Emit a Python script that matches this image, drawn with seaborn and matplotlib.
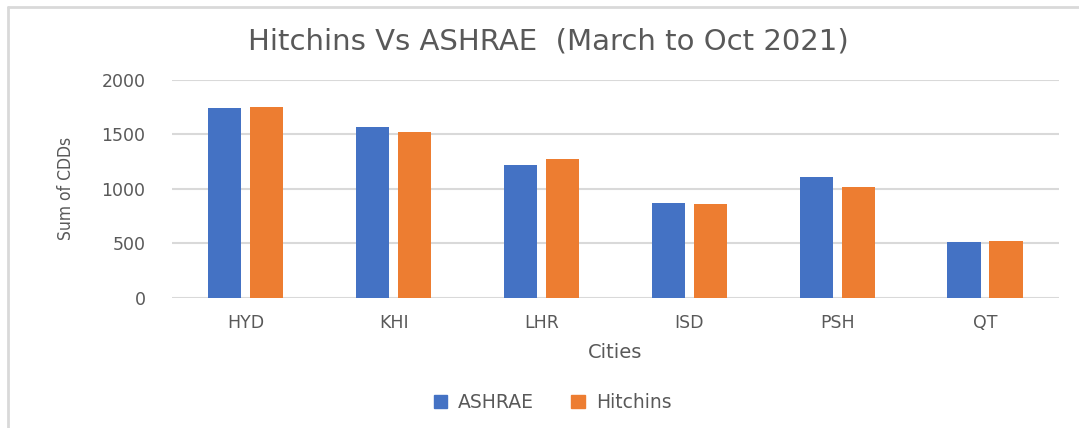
import pandas as pd
import seaborn as sns
import matplotlib.pyplot as plt
from matplotlib.lines import Line2D
from matplotlib.patches import Patch

# data
cities = ["HYD", "KHI", "LHR", "ISD", "PSH", "QT"]
ashrae = [1741, 1566, 1220, 868, 1107, 512]
hitchins = [1750, 1523, 1272, 858, 1015, 521]
series = ["ASHRAE", "Hitchins"]
colors = ["#4472C4", "#ED7D31"]

df = pd.DataFrame({
    "city": cities * 2,
    "cdd": ashrae + hitchins,
    "source": [series[0]] * len(cities) + [series[1]] * len(cities),
})

sns.set_style("white")
grey = "#595959"
wide = ["DejaVu Sans"]

fig = plt.figure(figsize=(10.79, 4.28), dpi=100)
ax = fig.add_axes([0.1594, 0.3044, 0.822, 0.5087])

sns.barplot(data=df, x="city", y="cdd", hue="source", palette=colors,
            width=0.568, gap=0.21, saturation=1, ax=ax, legend=False,
            edgecolor="none")

ax.set_ylim(0, 2000)
ax.set_yticks(range(0, 2001, 500))
ax.yaxis.grid(True, color="#d9d9d9", lw=1.5)
ax.set_axisbelow(True)
for s in ax.spines.values():
    s.set_visible(False)
ax.tick_params(axis="both", length=0, colors=grey, labelsize=12.5)
ax.tick_params(axis="y", pad=19)
ax.tick_params(axis="x", pad=12)
for lab in ax.get_xticklabels() + ax.get_yticklabels():
    lab.set_family(wide)

ax.set_xlabel("Cities", color=grey, fontsize=14, family=wide, labelpad=8)
ax.set_ylabel("Sum of CDDs", color=grey, fontsize=12.5, family=wide,
              fontstretch="condensed", labelpad=19)

fig.text(0.508, 0.902, "Hitchins Vs ASHRAE  (March to Oct 2021)", ha="center",
         va="center", fontsize=21, color=grey, family=wide)

handles = [Patch(color=c, label=l) for c, l in zip(colors, series)]
leg = fig.legend(handles=handles, loc="center", bbox_to_anchor=(0.512, 0.06),
                 ncol=2, frameon=False, handlelength=0.7, handleheight=0.7,
                 columnspacing=2.0, handletextpad=0.6,
                 prop={"family": wide, "size": 13.5})
for t in leg.get_texts():
    t.set_color(grey)

# outer chart frame (left and top edges visible)
fig.add_artist(Line2D([0.0075, 0.0075], [0, 0.984], color="#d9d9d9", lw=2,
                      transform=fig.transFigure))
fig.add_artist(Line2D([0.0075, 1], [0.984, 0.984], color="#d9d9d9", lw=2,
                      transform=fig.transFigure))

fig.savefig("out.png", dpi=100)
